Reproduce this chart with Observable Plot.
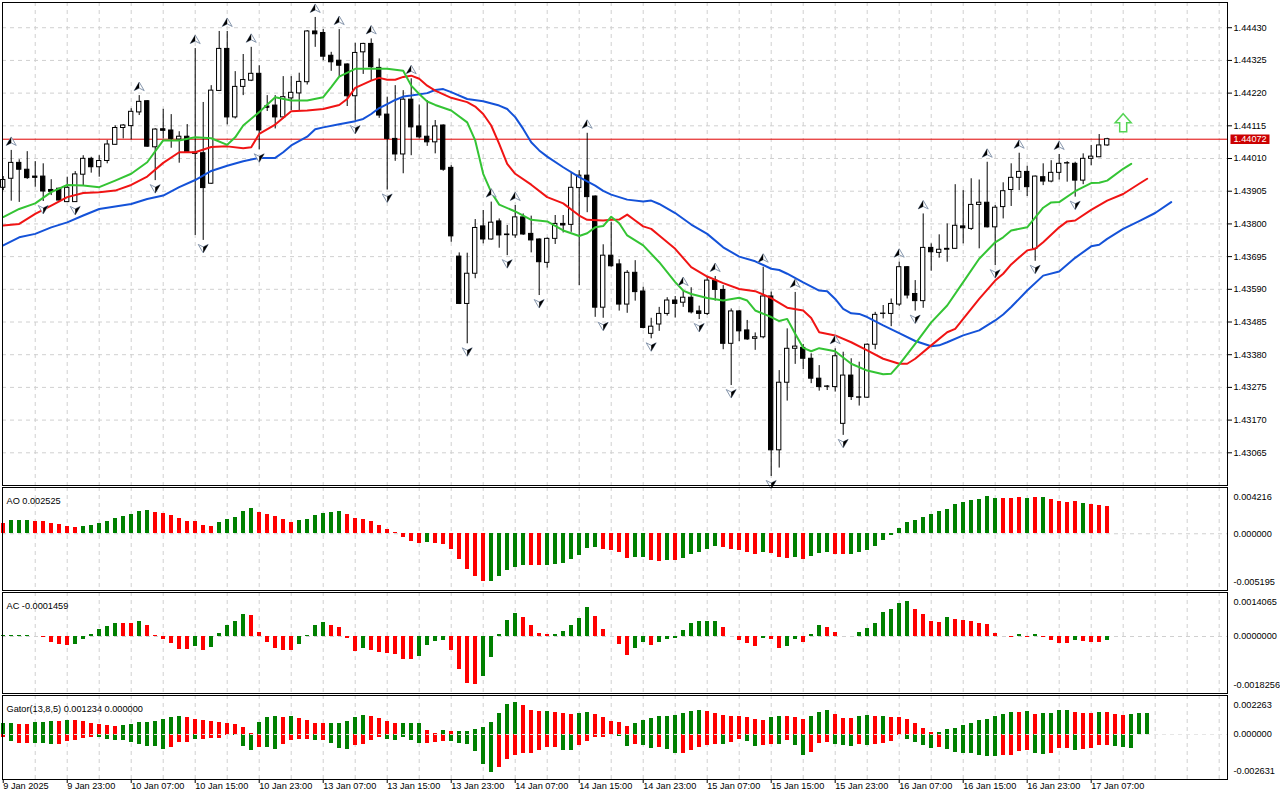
<!DOCTYPE html>
<html><head><meta charset="utf-8">
<script src="https://cdn.jsdelivr.net/npm/d3@7"></script>
<script src="https://cdn.jsdelivr.net/npm/@observablehq/plot@0.6"></script>
<style>
html,body{margin:0;padding:0;background:#fff;}
body{width:1280px;height:800px;overflow:hidden;position:relative;}
.panel{position:absolute;left:0;}
</style></head><body>
<div id="p0" class="panel" style="top:0px"></div>
<div id="p1" class="panel" style="top:486px"></div>
<div id="p2" class="panel" style="top:591px"></div>
<div id="p3" class="panel" style="top:694px"></div>
<script>
// ---------- DATA ----------
const open = [
1.43916,1.43945,1.43996,1.43974,1.43952,1.43952,1.43909,1.43913,1.43870,1.43870,
1.43958,1.44009,1.43982,1.44002,1.44054,1.44108,1.44114,1.44158,1.44194,1.44046,
1.44104,1.44100,1.44071,1.44080,1.44029,1.44027,1.43929,1.44227,1.44362,1.44142,
1.44240,1.44260,1.44282,1.44177,1.44180,1.44142,1.44203,1.44219,1.44255,1.44418,
1.44413,1.44340,1.44324,1.44312,1.44210,1.44351,1.44378,1.44301,1.44151,1.44073,
1.44023,1.44199,1.44113,1.44080,1.44062,1.44116,1.43980,1.43695,1.43543,1.43640,
1.43792,1.43750,1.43808,1.43766,1.43763,1.43821,1.43768,1.43750,1.43675,1.43752,
1.43800,1.43797,1.43915,1.43955,1.43888,1.43531,1.43698,1.43670,1.43541,1.43643,
1.43583,1.43447,1.43477,1.43511,1.43554,1.43547,1.43563,1.43519,1.43511,1.43618,
1.43588,1.43415,1.43519,1.43458,1.43431,1.43436,1.43567,1.43073,1.43290,1.43399,
1.43402,1.43367,1.43303,1.43278,1.43276,1.43158,1.43313,1.43243,1.43242,1.43412,
1.43511,1.43511,1.43541,1.43661,1.43575,1.43552,1.43723,1.43707,1.43717,1.43720,
1.43792,1.43784,1.43861,1.43868,1.43789,1.43854,1.43909,1.43948,1.43967,1.43720,
1.43950,1.43936,1.43964,1.43995,1.43993,1.43939,1.44009,1.44014,1.44052];
const high = [
1.43952,1.44036,1.44006,1.44032,1.44000,1.43993,1.43942,1.43915,1.43950,1.43968,
1.44019,1.44014,1.44019,1.44068,1.44115,1.44119,1.44170,1.44212,1.44196,1.44106,
1.44168,1.44151,1.44096,1.44119,1.44363,1.44190,1.44244,1.44418,1.44418,1.44289,
1.44344,1.44367,1.44308,1.44212,1.44212,1.44273,1.44273,1.44284,1.44421,1.44463,
1.44424,1.44351,1.44424,1.44314,1.44380,1.44380,1.44394,1.44330,1.44207,1.44244,
1.44228,1.44266,1.44182,1.44196,1.44132,1.44118,1.43987,1.43707,1.43706,1.43814,
1.43843,1.43870,1.43816,1.43795,1.43859,1.43832,1.43825,1.43752,1.43755,1.43827,
1.43827,1.43963,1.43971,1.44091,1.43890,1.43733,1.43805,1.43685,1.43650,1.43682,
1.43597,1.43497,1.43532,1.43563,1.43567,1.43586,1.43595,1.43536,1.43629,1.43631,
1.43602,1.43527,1.43522,1.43490,1.43450,1.43661,1.43581,1.43329,1.43463,1.43580,
1.43413,1.43383,1.43345,1.43281,1.43399,1.43388,1.43367,1.43356,1.43415,1.43516,
1.43538,1.43559,1.43677,1.43663,1.43618,1.43832,1.43736,1.43765,1.43800,1.43926,
1.43907,1.43945,1.43941,1.43998,1.43859,1.43932,1.43993,1.44027,1.43985,1.43954,
1.43993,1.44003,1.44023,1.44000,1.43998,1.44025,1.44052,1.44087,1.44075];
const low = [
1.43907,1.43873,1.43869,1.43943,1.43918,1.43872,1.43891,1.43872,1.43869,1.43869,
1.43923,1.43963,1.43950,1.43993,1.44053,1.44073,1.44070,1.44148,1.44046,1.43939,
1.44073,1.44043,1.43995,1.44028,1.43763,1.43747,1.43927,1.44225,1.44118,1.44137,
1.44212,1.44257,1.44038,1.44161,1.44105,1.44137,1.44164,1.44164,1.44246,1.44367,
1.44324,1.44290,1.44273,1.44177,1.44129,1.44280,1.44260,1.44139,1.43909,1.44001,
1.43961,1.44019,1.44073,1.44049,1.44025,1.43969,1.43741,1.43541,1.43415,1.43624,
1.43736,1.43748,1.43722,1.43698,1.43754,1.43763,1.43707,1.43570,1.43658,1.43734,
1.43771,1.43773,1.43602,1.43836,1.43500,1.43497,1.43661,1.43520,1.43513,1.43552,
1.43463,1.43431,1.43455,1.43504,1.43498,1.43532,1.43511,1.43493,1.43506,1.43552,
1.43396,1.43281,1.43422,1.43426,1.43394,1.43431,1.42989,1.43016,1.43231,1.43349,
1.43332,1.43287,1.43263,1.43265,1.43260,1.43121,1.43233,1.43215,1.43240,1.43396,
1.43495,1.43470,1.43535,1.43559,1.43520,1.43529,1.43648,1.43690,1.43677,1.43718,
1.43736,1.43779,1.43720,1.43787,1.43666,1.43816,1.43856,1.43907,1.43888,1.43680,
1.43923,1.43932,1.43941,1.43934,1.43886,1.43926,1.43987,1.44013,1.44049];
const close = [
1.43941,1.43996,1.43974,1.43947,1.43948,1.43904,1.43903,1.43875,1.43916,1.43959,
1.44009,1.43982,1.44002,1.44055,1.44108,1.44116,1.44160,1.44192,1.44048,1.44103,
1.44099,1.44073,1.44080,1.44030,1.44025,1.43915,1.44228,1.44362,1.44142,1.44240,
1.44262,1.44282,1.44100,1.44173,1.44142,1.44207,1.44221,1.44256,1.44418,1.44409,
1.44337,1.44319,1.44308,1.44210,1.44349,1.44378,1.44303,1.44148,1.44073,1.44023,
1.44199,1.44110,1.44078,1.44062,1.44113,1.43974,1.43760,1.43543,1.43640,1.43787,
1.43750,1.43804,1.43763,1.43764,1.43821,1.43766,1.43747,1.43677,1.43752,1.43800,
1.43795,1.43916,1.43955,1.43886,1.43531,1.43698,1.43664,1.43541,1.43643,1.43581,
1.43466,1.43470,1.43511,1.43554,1.43543,1.43563,1.43516,1.43511,1.43618,1.43588,
1.43415,1.43519,1.43455,1.43429,1.43436,1.43567,1.43073,1.43290,1.43399,1.43406,
1.43367,1.43303,1.43276,1.43277,1.43375,1.43313,1.43244,1.43242,1.43412,1.43508,
1.43512,1.43543,1.43661,1.43570,1.43552,1.43723,1.43709,1.43717,1.43720,1.43794,
1.43786,1.43861,1.43868,1.43789,1.43852,1.43905,1.43948,1.43967,1.43918,1.43952,
1.43936,1.43964,1.43993,1.43994,1.43939,1.44009,1.44016,1.44052,1.44072];
const lastClose = 1.44072;

const upFractals = [1,17,24,28,31,39,42,46,51,61,64,73,85,89,95,99,104,112,115,123,127,132];
const downFractals = [5,9,19,25,32,44,48,58,63,67,75,81,87,91,96,105,114,124,129,134];
const signalArrow = [{i:140, price:1.44125}];

// Alligator: [bar index, value]
const lips = [[0,1.43822],[2,1.43848],[4,1.43866],[6,1.43902],[8,1.43925],[10,1.43923],[12,1.43918],[14,1.43939],[16,1.43961],[18,1.43998],[20,1.44068],[22,1.44068],[24,1.44078],[26,1.44075],[28,1.44054],[29,1.44078],[30,1.44116],[32,1.44159],[34,1.44207],[36,1.44196],[38,1.44196],[40,1.44207],[41,1.44239],[42,1.44273],[44,1.44298],[46,1.44298],[48,1.44298],[50,1.44292],[51,1.44244],[52,1.44217],[53,1.44193],[54,1.44182],[56,1.44164],[58,1.44126],[59,1.44068],[60,1.43961],[61,1.43902],[62,1.43862],[64,1.43840],[66,1.43813],[68,1.43808],[70,1.43779],[72,1.43761],[73,1.43770],[74,1.43789],[75,1.43793],[76,1.43823],[77,1.43802],[78,1.43763],[80,1.43731],[82,1.43677],[84,1.43613],[85,1.43586],[86,1.43575],[88,1.43562],[90,1.43554],[92,1.43563],[93,1.43554],[94,1.43522],[96,1.43501],[97,1.43488],[98,1.43495],[99,1.43447],[100,1.43402],[101,1.43391],[102,1.43401],[104,1.43391],[106,1.43351],[108,1.43329],[110,1.43317],[111,1.43319],[112,1.43348],[114,1.43415],[116,1.43484],[118,1.43538],[120,1.43613],[122,1.43688],[124,1.43741],[125,1.43757],[126,1.43779],[128,1.43789],[130,1.43852],[131,1.43869],[132,1.43870],[134,1.43905],[136,1.43931],[137,1.43932],[138,1.43939],[140,1.43977],[141,1.43993]];
const teeth = [[0,1.43795],[2,1.43800],[4,1.43832],[6,1.43859],[8,1.43886],[10,1.43899],[12,1.43902],[14,1.43907],[16,1.43925],[18,1.43952],[20,1.43996],[22,1.44030],[24,1.44030],[26,1.44047],[28,1.44049],[30,1.44043],[31,1.44046],[32,1.44089],[34,1.44119],[36,1.44162],[38,1.44164],[40,1.44169],[42,1.44182],[43,1.44201],[44,1.44237],[46,1.44260],[47,1.44269],[48,1.44263],[49,1.44263],[50,1.44272],[51,1.44276],[52,1.44266],[53,1.44244],[54,1.44228],[56,1.44205],[58,1.44191],[59,1.44177],[60,1.44153],[61,1.44116],[62,1.44057],[63,1.43993],[64,1.43961],[66,1.43926],[68,1.43886],[70,1.43866],[72,1.43827],[73,1.43813],[75,1.43811],[76,1.43813],[77,1.43814],[78,1.43830],[79,1.43811],[80,1.43792],[81,1.43784],[82,1.43763],[84,1.43720],[86,1.43661],[88,1.43631],[90,1.43610],[92,1.43591],[94,1.43584],[96,1.43562],[98,1.43531],[100,1.43522],[101,1.43498],[102,1.43452],[104,1.43442],[106,1.43420],[108,1.43394],[110,1.43367],[112,1.43351],[113,1.43351],[114,1.43367],[116,1.43410],[118,1.43452],[119,1.43463],[120,1.43495],[122,1.43559],[124,1.43618],[125,1.43640],[126,1.43670],[128,1.43715],[129,1.43720],[130,1.43741],[132,1.43789],[133,1.43808],[134,1.43811],[136,1.43845],[138,1.43875],[140,1.43896],[142,1.43929],[143,1.43945]];
const jaw = [[0,1.43731],[2,1.43757],[4,1.43768],[6,1.43789],[8,1.43805],[10,1.43827],[12,1.43848],[14,1.43856],[16,1.43864],[18,1.43880],[20,1.43891],[22,1.43918],[24,1.43941],[26,1.43970],[28,1.43987],[30,1.44001],[32,1.44012],[34,1.44012],[35,1.44030],[36,1.44052],[38,1.44080],[39,1.44104],[40,1.44110],[42,1.44120],[44,1.44130],[45,1.44137],[46,1.44153],[47,1.44172],[48,1.44185],[49,1.44198],[50,1.44209],[51,1.44212],[53,1.44220],[54,1.44230],[55,1.44233],[56,1.44223],[58,1.44201],[60,1.44194],[62,1.44180],[63,1.44169],[64,1.44143],[65,1.44105],[66,1.44062],[67,1.44036],[68,1.44016],[70,1.43982],[72,1.43950],[74,1.43923],[75,1.43906],[76,1.43894],[78,1.43878],[80,1.43872],[81,1.43875],[82,1.43864],[84,1.43835],[86,1.43798],[88,1.43768],[90,1.43725],[92,1.43695],[94,1.43680],[96,1.43656],[97,1.43652],[98,1.43640],[100,1.43612],[102,1.43586],[103,1.43584],[104,1.43559],[105,1.43527],[106,1.43513],[107,1.43511],[108,1.43501],[110,1.43474],[112,1.43449],[114,1.43424],[116,1.43407],[117,1.43410],[118,1.43420],[120,1.43442],[122,1.43458],[124,1.43490],[125,1.43509],[126,1.43533],[128,1.43586],[130,1.43634],[132,1.43647],[134,1.43691],[136,1.43728],[137,1.43733],[138,1.43752],[140,1.43784],[142,1.43809],[144,1.43835],[146,1.43870]];

const ao = [0.000995,0.001213,0.001215,0.001216,0.001120,0.001118,0.000933,0.000840,0.000653,0.000560,
0.000653,0.000746,0.000933,0.001120,0.001400,0.001586,0.001773,0.002053,0.002146,0.001959,
0.001866,0.001679,0.001400,0.001120,0.001118,0.000746,0.000653,0.001026,0.001306,0.001493,
0.002053,0.002333,0.001959,0.001773,0.001586,0.001306,0.001026,0.001213,0.001306,0.001679,
0.001866,0.001959,0.002053,0.001773,0.001400,0.001306,0.001120,0.000746,0.000373,0.000093,
-0.000373,-0.000746,-0.000933,-0.000809,-0.000902,-0.000995,-0.001462,-0.002395,-0.003328,-0.003981,
-0.004447,-0.004440,-0.003981,-0.003421,-0.003141,-0.002955,-0.002960,-0.002965,-0.002955,-0.002861,
-0.002768,-0.002395,-0.002022,-0.001368,-0.001275,-0.001462,-0.001555,-0.001742,-0.002301,-0.002208,
-0.002200,-0.002488,-0.002581,-0.002488,-0.002495,-0.002301,-0.001928,-0.001742,-0.001462,-0.001182,
-0.001275,-0.001462,-0.001555,-0.001742,-0.001928,-0.001742,-0.001835,-0.002208,-0.002301,-0.002208,
-0.002395,-0.002115,-0.001835,-0.001742,-0.001959,-0.001965,-0.001955,-0.001742,-0.001555,-0.001182,
-0.000622,-0.000187,0.000498,0.001026,0.001244,0.001493,0.001773,0.002084,0.002239,0.002706,
0.002923,0.003079,0.003234,0.003452,0.003297,0.003290,0.003285,0.003359,0.003297,0.003359,
0.003350,0.003172,0.003048,0.002923,0.002986,0.002799,0.002706,0.002612,0.002525];
const aoColors = "RGGGRRRRRRGGGGGGGGGRRRRRRRRGGGGGRRRRRGGGGGGRRRRRRRRRRGRRRRRRRGGGGGRRGGGGGGGRRRRGGRRGRGGGGGRRRRRGRRRGRGGGRRGGGGGGGGGGGGGGGGGGGRRRGRGRRRRGRRRR";

const ac = [0.0000218,0.0000436,0.0000440,0.0000445,-0.0000109,-0.0000436,-0.0001853,-0.0002507,-0.0002834,-0.0002507,
-0.0000872,0.0000654,0.0002289,0.0003270,0.0004251,0.0004240,0.0004230,0.0004905,0.0003597,0.0000327,
-0.0000872,-0.0002180,-0.0004142,-0.0004150,-0.0003161,-0.0004469,-0.0003488,0.0000981,0.0003597,0.0004905,
0.0007194,0.0006867,0.0001308,-0.0001853,-0.0003815,-0.0004469,-0.0004475,-0.0002507,0.0000218,0.0003597,
0.0004578,0.0003597,0.0002943,-0.0000545,-0.0004796,-0.0003815,-0.0004469,-0.0005123,-0.0005450,-0.0005777,
-0.0007412,-0.0007420,-0.0006649,-0.0002943,-0.0001635,-0.0001308,-0.0004578,-0.0010791,-0.0015369,-0.0015696,
-0.0013080,-0.0006867,0.0000654,0.0005341,0.0007521,0.0006213,0.0003597,0.0000981,0.0000654,0.0000680,
0.0001635,0.0003597,0.0005886,0.0009483,0.0006540,0.0002289,-0.0000109,-0.0002507,-0.0006104,-0.0003815,
-0.0001853,-0.0002834,-0.0001853,-0.0000872,-0.0000545,0.0001962,0.0004251,0.0004905,0.0004910,0.0004915,
0.0002943,0.0000109,-0.0001199,-0.0002180,-0.0003161,-0.0000545,-0.0000872,-0.0003815,-0.0003161,-0.0000872,
-0.0001853,0.0000545,0.0003597,0.0002943,0.0001308,-0.0000109,-0.0000100,0.0001308,0.0002616,0.0004251,
0.0007848,0.0008829,0.0010791,0.0011445,0.0008829,0.0007194,0.0004905,0.0004578,0.0006213,0.0005559,
0.0005232,0.0004905,0.0004251,0.0003924,0.0000981,0.0000109,-0.0000327,0.0000654,-0.0000218,0.0000654,
-0.0000218,-0.0001308,-0.0002180,-0.0002185,-0.0001308,-0.0001635,-0.0001853,-0.0001860,-0.0001459];
const acColors = "GGGGRRRRRGGGGGGRRGRRRRRRGRGGGGGRRRRRRGGGGRRRRGRRRRRRGGGGRRRRGGGGGRRRRGGGGGRRRRRGGRGGGGGGGGRRRRRGRRGGRGGRRRGGGGGGGGRRRRGRRRRRRRRGRGRRRRGRRRG";

const gatorUp = [0.000648,0.000648,0.000590,0.000590,0.000707,0.000707,0.000766,0.000766,0.000825,0.000825,
0.000766,0.000648,0.000590,0.000531,0.000472,0.000531,0.000590,0.000707,0.000707,0.000766,
0.000884,0.001002,0.001061,0.001002,0.000884,0.000825,0.000766,0.000707,0.000648,0.000590,
0.000413,0.000039,0.000707,0.001002,0.001061,0.001002,0.001061,0.000943,0.000825,0.000648,
0.000648,0.000648,0.000648,0.000766,0.001002,0.001120,0.001061,0.000943,0.000766,0.000648,
0.000648,0.000648,0.000648,0.000236,0.000059,0.000236,0.000157,0.000177,0.000197,0.000295,
0.000413,0.000707,0.001238,0.001769,0.001886,0.001710,0.001415,0.001356,0.001356,0.001297,
0.001238,0.001179,0.001238,0.001297,0.001179,0.001002,0.000766,0.000707,0.000472,0.000648,
0.000825,0.000943,0.001061,0.001061,0.001120,0.001238,0.001356,0.001415,0.001356,0.001238,
0.001120,0.001061,0.001061,0.001002,0.000884,0.000825,0.001002,0.001061,0.001061,0.001002,
0.000884,0.001061,0.001297,0.001415,0.001179,0.000943,0.000943,0.001061,0.001120,0.001061,
0.001061,0.001002,0.001002,0.000884,0.000648,0.000354,0.000098,0.000118,0.000295,0.000354,
0.000531,0.000648,0.000825,0.000884,0.001061,0.001179,0.001297,0.001297,0.001356,0.001179,
0.001238,0.001238,0.001415,0.001415,0.001297,0.001238,0.001238,0.001297,0.001297,0.001179,
0.001120,0.001179,0.001238,0.001234];
const gatorUpColors = "GGRRGGGRGRRRRRRGGGGGGGGRRRRRRRRRGGGRGRRRRGGGGGRRRRGGGRRGRGGGGGGGGRRRGRRRGGRRRRRGGGGGGGGGRRRRRRRRGGRRRGGGRRRGGRGRRRRRRGGGGGGGGGGRGRGGGGRRRGRRRGGG";
const gatorDown = [-0.000197,-0.000393,-0.000511,-0.000511,-0.000511,-0.000511,-0.000590,-0.000590,-0.000393,-0.000334,
-0.000216,-0.000157,-0.000157,-0.000275,-0.000334,-0.000334,-0.000452,-0.000570,-0.000688,-0.000688,
-0.000865,-0.000747,-0.000452,-0.000452,-0.000275,-0.000275,-0.000216,-0.000216,-0.000039,-0.000039,
-0.000688,-0.000924,-0.000747,-0.000747,-0.000865,-0.000570,-0.000334,-0.000275,-0.000275,-0.000334,
-0.000334,-0.000511,-0.000806,-0.000865,-0.000629,-0.000570,-0.000334,-0.000157,-0.000275,-0.000334,
-0.000157,-0.000334,-0.000511,-0.000511,-0.000452,-0.000393,-0.000393,-0.000511,-0.000570,-0.000983,
-0.001749,-0.002220,-0.001926,-0.001454,-0.001218,-0.001100,-0.001100,-0.000924,-0.000747,-0.000747,
-0.000924,-0.000924,-0.000629,-0.000393,-0.000157,-0.000157,-0.000020,-0.000098,-0.000688,-0.000570,
-0.000629,-0.000806,-0.000747,-0.000865,-0.001100,-0.001100,-0.000924,-0.000747,-0.000629,-0.000570,
-0.000570,-0.000452,-0.000275,-0.000393,-0.000688,-0.000629,-0.000570,-0.000570,-0.000334,-0.000629,
-0.001218,-0.001041,-0.000511,-0.000452,-0.000570,-0.000629,-0.000688,-0.000570,-0.000629,-0.000570,
-0.000511,-0.000393,-0.000039,-0.000275,-0.000452,-0.000629,-0.000806,-0.000747,-0.000865,-0.001041,
-0.001100,-0.001100,-0.001218,-0.001277,-0.001277,-0.001218,-0.001218,-0.000983,-0.000924,-0.001100,
-0.001159,-0.001100,-0.000806,-0.000806,-0.000924,-0.000865,-0.000806,-0.000629,-0.000629,-0.000688,
-0.000747,-0.000806,0,0];
const gatorDownColors = "RGRRGGGRRRRRGGGGGGGGGRRRGRRRRGGGRGGRRRRGRGGGRRRRGGGGGRRRGGGGGGRRRRRRRRGGRRRRRGGRGGRGGRRRRRGRRGGRRGRGGRRRGGGRGRRRRGGGGRGGGGGGGRRRRGGRRRGRRRRGGGRR";

const priceTicks = [1.44430,1.44325,1.44220,1.44115,1.44010,1.43905,1.43800,1.43695,1.43590,1.43485,1.43380,1.43275,1.43170,1.43065];
const timeTickIdx = [0,8,16,24,32,40,48,56,64,72,80,88,96,104,112,120,128,136];
const timeTickLabels = ["9 Jan 2025","9 Jan 23:00","10 Jan 07:00","10 Jan 15:00","10 Jan 23:00","13 Jan 07:00","13 Jan 15:00","13 Jan 23:00","14 Jan 07:00","14 Jan 15:00","14 Jan 23:00","15 Jan 07:00","15 Jan 15:00","15 Jan 23:00","16 Jan 07:00","16 Jan 15:00","16 Jan 23:00","17 Jan 07:00"];

// ---------- RENDER ----------
const GREEN = "#008000", RED = "#ff0000";
const X_DOMAIN = [-0.09, 153.04];
const vGrid = d3.range(4, 153, 4);
const gridStyle = {stroke: "#d0d0d0", strokeOpacity: 1, strokeDasharray: "4,4"};
const FONT = {fontFamily: '"Liberation Sans", Arial, sans-serif', fontSize: "9.2px", background: "transparent", overflow: "visible", color: "black"};

function base(height, mt, mb, yDomain, marks) {
  return Plot.plot({
    width: 1280, height, marginTop: mt, marginBottom: mb, marginLeft: 2, marginRight: 53,
    x: {domain: X_DOMAIN, axis: null, label: null},
    y: {domain: yDomain, axis: null, label: null},
    color: {type: "identity"},
    style: FONT,
    marks
  });
}

const candles = open.map((o, i) => ({i, open: o, high: high[i], low: low[i], close: close[i]}));

const sym = (pts) => ({draw(ctx) { ctx.moveTo(pts[0][0], pts[0][1]); for (let k = 1; k < pts.length; k++) ctx.lineTo(pts[k][0], pts[k][1]); ctx.closePath(); }});
const upFull = sym([[0,-4.5],[5,4],[0,1.5],[-5,4]]);
const upHalf = sym([[0,-4.5],[0,1.5],[-5,4]]);
const dnFull = sym([[0,4.5],[5,-4],[0,-1.5],[-5,-4]]);
const dnHalf = sym([[0,4.5],[0,-1.5],[5,-4]]);
const bigArrow = sym([[0,-9],[8,0],[3.5,0],[3.5,9],[-3.5,9],[-3.5,0],[-8,0]]);
const priceBox = sym([[3,-4.8],[42,-4.8],[42,4.8],[3,4.8]]);

const upData = upFractals.map(i => ({i, y: high[i]}));
const dnData = downFractals.map(i => ({i, y: low[i]}));

const mainPlot = base(486, 2, 1, [1.42960, 1.44511], [
  Plot.gridX(vGrid, gridStyle),
  Plot.gridY(priceTicks, gridStyle),
  Plot.ruleY([lastClose], {stroke: "#e00000", strokeWidth: 1}),
  Plot.ruleX(candles, {x: "i", y1: "low", y2: "high", stroke: "black", strokeWidth: 1}),
  Plot.rect(candles, {x1: d => d.i - 0.27, x2: d => d.i + 0.27, y1: "open", y2: "close",
    fill: d => d.close >= d.open ? "white" : "black", stroke: "black", strokeWidth: 1}),
  Plot.line(jaw, {x: d => d[0], y: d => d[1], stroke: "#1452d8", strokeWidth: 2}),
  Plot.line(teeth, {x: d => d[0], y: d => d[1], stroke: "#f01414", strokeWidth: 2}),
  Plot.line(lips, {x: d => d[0], y: d => d[1], stroke: "#34c434", strokeWidth: 2}),
  Plot.dot(upData, {x: "i", y: "y", dy: -9, symbol: upFull, fill: "white", stroke: "#8797ad", strokeWidth: 1}),
  Plot.dot(upData, {x: "i", y: "y", dy: -9, symbol: upHalf, fill: "black", stroke: "none"}),
  Plot.dot(dnData, {x: "i", y: "y", dy: 8, symbol: dnFull, fill: "white", stroke: "#8797ad", strokeWidth: 1}),
  Plot.dot(dnData, {x: "i", y: "y", dy: 8, symbol: dnHalf, fill: "black", stroke: "none"}),
  Plot.dot(signalArrow, {x: "i", y: "price", symbol: bigArrow, fill: "white", stroke: "#55d455", strokeWidth: 1.5}),
  Plot.frame({stroke: "black"}),
  Plot.axisY(priceTicks, {anchor: "right", tickSize: 4, tickPadding: 2, tickFormat: d => d.toFixed(5), textAnchor: "start", label: null}),
  Plot.dot([lastClose], {y: d => d, frameAnchor: "right", symbol: priceBox, fill: "#cc0000", stroke: "none"}),
  Plot.text([lastClose], {y: d => d, frameAnchor: "right", text: d => d.toFixed(5), dx: 6, textAnchor: "start", fill: "white"})
]);
document.getElementById("p0").appendChild(mainPlot);

function bars(vals, cols) {
  const data = vals.map((v, i) => ({i, v, c: cols[i] === "G" ? GREEN : RED}));
  return Plot.rect(data, {x1: d => d.i - 0.25, x2: d => d.i + 0.25, y1: 0, y2: "v", fill: "c", shapeRendering: "crispEdges"});
}
function sideLabels(topTxt, zeroTxt, botTxt) {
  return [
    Plot.text([topTxt], {frameAnchor: "top-right", text: d => d, dx: 6, dy: 5.5, textAnchor: "start"}),
    Plot.text([zeroTxt], {y: () => 0, frameAnchor: "right", text: d => d, dx: 6, textAnchor: "start"}),
    Plot.text([botTxt], {frameAnchor: "bottom-right", text: d => d, dx: 6, dy: -5.5, textAnchor: "start"})
  ];
}
function title(t) {
  return Plot.text([t], {frameAnchor: "top-left", text: d => d, dx: 4, dy: 10, textAnchor: "start"});
}
const zeroLine = Plot.ruleY([0], gridStyle);

const aoPlot = base(105, 1, 1, [-0.005283, 0.00431], [
  Plot.gridX(vGrid, gridStyle), zeroLine,
  bars(ao, aoColors),
  Plot.frame({stroke: "black"}),
  ...sideLabels("0.004216", "0.000000", "-0.005195"),
  title("AO 0.002525")
]);
document.getElementById("p1").appendChild(aoPlot);

const acPlot = base(103, 1, 1, [-0.001861, 0.001436], [
  Plot.gridX(vGrid, gridStyle), zeroLine,
  bars(ac, acColors),
  Plot.frame({stroke: "black"}),
  ...sideLabels("0.0014065", "0.0000000", "-0.0018256"),
  title("AC -0.0001459")
]);
document.getElementById("p2").appendChild(acPlot);

const gatorPlot = base(106, 1, 21, [-0.002653, 0.0023], [
  Plot.gridX(vGrid, gridStyle),
  bars(gatorUp, gatorUpColors),
  bars(gatorDown, gatorDownColors),
  Plot.ruleY([0], {stroke: "#e6e6e6", strokeOpacity: 1, strokeDasharray: "4,4"}),
  Plot.frame({stroke: "black"}),
  ...sideLabels("0.002263", "0.000000", "-0.002631"),
  title("Gator(13,8,5) 0.001234 0.000000"),
  Plot.axisX(timeTickIdx, {anchor: "bottom", tickSize: 4, tickFormat: () => "", label: null}),
  Plot.text(timeTickIdx, {x: d => d, text: (d, k) => timeTickLabels[k], frameAnchor: "bottom", dy: 9.5, textAnchor: "start"})
]);
document.getElementById("p3").appendChild(gatorPlot);
</script>
</body></html>
